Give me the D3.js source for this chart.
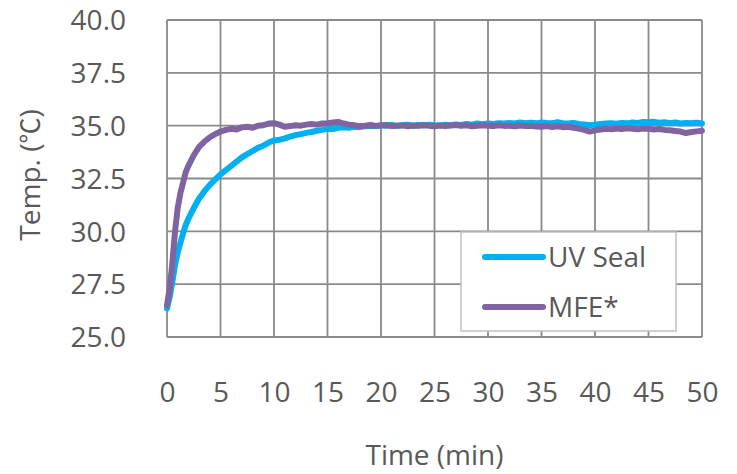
<!DOCTYPE html>
<html>
<head>
<meta charset="utf-8">
<script src="https://cdn.jsdelivr.net/npm/d3@7"></script>
<style>
  html, body { margin: 0; padding: 0; background: #fff; }
  svg { display: block; }
  text { font-family: "Open Sans", "Noto Sans CJK TC", sans-serif; fill: #595959; }
</style>
</head>
<body>
<svg id="chart" width="737" height="474"></svg>
<script>
// ---- data ----
const times = [0,0.25,0.5,0.75,1,1.25,1.5,1.75,2,2.5,3,3.5,4,4.5,5,5.5,6,6.5,7,7.5,8,8.5,9,9.5,10,
  10.5,11,11.5,12,12.5,13,13.5,14,14.5,15,15.5,16,16.5,17,17.5,18,18.5,19,19.5,20,
  20.5,21,21.5,22,22.5,23,23.5,24,24.5,25,25.5,26,26.5,27,27.5,28,28.5,29,29.5,30,
  30.5,31,31.5,32,32.5,33,33.5,34,34.5,35,35.5,36,36.5,37,37.5,38,38.5,39,39.5,40,
  40.5,41,41.5,42,42.5,43,43.5,44,44.5,45,45.5,46,46.5,47,47.5,48,48.5,49,49.5,50];

const uvSeal = [26.35,26.9,27.6,28.4,29.0,29.45,29.9,30.3,30.6,31.1,31.55,31.9,32.2,32.45,32.7,32.9,33.1,33.3,33.5,33.65,33.8,33.95,34.05,34.2,34.3,
  34.33,34.4,34.48,34.55,34.6,34.66,34.7,34.76,34.8,34.85,34.84,34.9,34.93,34.9,34.95,34.93,34.97,35.0,34.98,35.02,
  35.0,35.03,34.99,35.02,35.04,35.0,35.03,35.01,35.05,35.02,35.0,35.04,35.02,35.06,35.03,35.08,35.05,35.1,35.07,35.1,
  35.08,35.12,35.1,35.13,35.1,35.15,35.12,35.14,35.11,35.15,35.13,35.12,35.16,35.12,35.1,35.13,35.08,35.06,35.02,35.05,
  35.08,35.1,35.12,35.09,35.13,35.11,35.15,35.13,35.17,35.16,35.18,35.14,35.16,35.12,35.15,35.1,35.13,35.11,35.14,35.1];

const mfe = [26.5,27.3,28.5,30.0,31.1,31.8,32.3,32.8,33.1,33.6,34.0,34.25,34.45,34.6,34.72,34.8,34.85,34.82,34.92,34.95,34.9,35.0,35.02,35.1,35.12,
  35.05,34.95,34.98,35.02,35.0,35.05,35.08,35.05,35.1,35.12,35.15,35.18,35.1,35.05,35.02,34.98,35.0,35.03,34.99,35.01,
  35.03,34.98,35.0,35.02,34.97,35.01,34.99,35.03,35.0,34.97,35.02,34.98,35.01,35.03,34.99,35.02,34.97,35.0,35.02,35.0,
  34.98,35.02,34.99,35.0,34.97,35.01,34.98,34.99,34.96,34.95,34.98,34.94,34.97,34.93,34.95,34.9,34.86,34.8,34.72,34.78,
  34.82,34.85,34.83,34.87,34.84,34.88,34.85,34.83,34.86,34.85,34.82,34.84,34.8,34.78,34.75,34.72,34.65,34.7,34.73,34.76];

const seriesNames = ["UV Seal", "MFE*"];
const seriesColors = ["#00B0F0", "#8064A2"];
const xTicks = [0,5,10,15,20,25,30,35,40,45,50];
const yTicks = [25.0,27.5,30.0,32.5,35.0,37.5,40.0];

// ---- layout ----
const svg = d3.select("#chart");
const pLeft = 167, pRight = 702, pTop = 20, pBottom = 337;

const x = d3.scaleLinear().domain([0, 50]).range([pLeft, pRight]);
const y = d3.scaleLinear().domain([25, 40]).range([pBottom, pTop]);

// grid
const grid = svg.append("g");
grid.selectAll("line.v").data(xTicks).enter().append("line")
  .attr("x1", d => x(d)).attr("x2", d => x(d))
  .attr("y1", pTop).attr("y2", pBottom)
  .attr("stroke", "#8a8a8a").attr("stroke-width", 1.8);
grid.selectAll("line.h").data(yTicks).enter().append("line")
  .attr("x1", pLeft).attr("x2", pRight)
  .attr("y1", d => y(d)).attr("y2", d => y(d))
  .attr("stroke", "#8a8a8a").attr("stroke-width", 1.8);

// axes labels via d3 axes
const yAxis = d3.axisLeft(y).tickValues(yTicks).tickFormat(d3.format(".1f")).tickSize(0).tickPadding(0);
const yg = svg.append("g").attr("transform", `translate(126,0)`).call(yAxis);
yg.select(".domain").remove();
yg.selectAll("text").attr("font-size", 28).attr("fill", "#595959")
  .style("font-family", '"Open Sans", sans-serif').attr("x", 0).attr("dy", "0.35em");

const xAxis = d3.axisBottom(x).tickValues(xTicks).tickFormat(d3.format("d")).tickSize(0).tickPadding(0);
const xg = svg.append("g").attr("transform", `translate(0,402)`).call(xAxis);
xg.select(".domain").remove();
xg.selectAll("text").attr("font-size", 28).attr("fill", "#595959")
  .style("font-family", '"Open Sans", sans-serif').attr("y", 0).attr("dy", 0);

// axis titles
svg.append("text").attr("x", (pLeft + pRight) / 2).attr("y", 465)
  .attr("text-anchor", "middle").attr("font-size", 28).text("Time (min)");
const yt = svg.append("text").attr("transform", "translate(40,175) rotate(-90)")
  .attr("text-anchor", "middle").attr("font-size", 28);
yt.append("tspan").text("Temp. (");
yt.append("tspan").style("font-family", '"Noto Sans CJK TC", sans-serif').attr("font-size", 26).text("℃");
yt.append("tspan").text(")");

// lines
const data = [uvSeal, mfe];
const line = d3.line().x((d, i) => x(times[i])).y(d => y(d));
svg.append("g").selectAll("path").data(data).enter().append("path")
  .attr("d", d => line(d))
  .attr("fill", "none")
  .attr("stroke", (d, i) => seriesColors[i])
  .attr("stroke-width", 6)
  .attr("stroke-linejoin", "round")
  .attr("stroke-linecap", "round");

// legend
const lg = svg.append("g");
lg.append("rect").attr("x", 461).attr("y", 232).attr("width", 215).attr("height", 99)
  .attr("fill", "#fff").attr("stroke", "#c0c0c0").attr("stroke-width", 1.5);
const ly = [257, 307];
seriesNames.forEach((name, i) => {
  lg.append("line").attr("x1", 485).attr("x2", 543).attr("y1", ly[i]).attr("y2", ly[i])
    .attr("stroke", seriesColors[i]).attr("stroke-width", 6).attr("stroke-linecap", "round");
  lg.append("text").attr("x", 548).attr("y", ly[i] + 10).attr("font-size", 28).text(name);
});
</script>
</body>
</html>
